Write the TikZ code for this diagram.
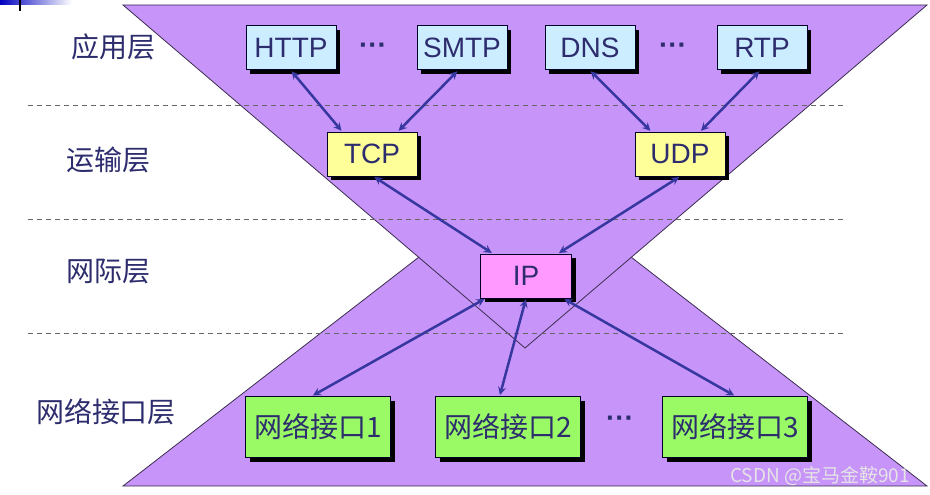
\documentclass[tikz,border=0pt]{standalone}
\usepackage{fontspec}
\setmainfont{Liberation Sans}
\newfontfamily\cjk{Noto Sans CJK SC}
\usetikzlibrary{shadows}
\definecolor{lilac}{RGB}{199,148,249}
\definecolor{edgegray}{RGB}{60,45,80}
\definecolor{navytext}{RGB}{45,45,110}
\definecolor{linkblue}{RGB}{55,55,160}
\definecolor{appblue}{RGB}{204,236,255}
\definecolor{tpyellow}{RGB}{255,255,153}
\definecolor{ippink}{RGB}{255,153,255}
\definecolor{nigreen}{RGB}{153,250,102}
\begin{document}
\begin{tikzpicture}[x=1pt,y=-1pt,>=stealth,
    every node/.style={text=navytext},
    layer/.style={font=\cjk\fontsize{28}{30}\selectfont},
    box/.style={draw=black!85!blue,line width=1pt,inner sep=0pt,
        minimum width=90pt,minimum height=44pt,
        font=\fontsize{28}{30}\selectfont,
        general shadow={fill=black,shadow xshift=4pt,shadow yshift=-4pt}},
    nibox/.style={box,fill=nigreen,minimum width=145pt,minimum height=61pt,
        font=\cjk\fontsize{28}{30}\selectfont},
    link/.style={<->,draw=linkblue,line width=2.5pt,shorten <=1pt,shorten >=1pt},
    sep/.style={dashed,draw=black!60,thick,dash pattern=on 5pt off 4pt}]
    \useasboundingbox (0,0) rectangle (930,495);
    % slide corner
    \shade[left color=blue!75!black,right color=white] (0,0) rectangle (72,5);
    \draw[line width=2pt] (20,0) -- (20,11);
    % the two triangles
    \filldraw[fill=lilac,draw=edgegray,thick] (123,486) -- (525,175) -- (927,486) -- cycle;
    \filldraw[fill=lilac,draw=edgegray,thick] (123,5) -- (927,5) -- (525,348) -- cycle;
    % layer borders
    \draw[sep] (28,105) -- (843,105);
    \draw[sep] (28,219) -- (843,219);
    \draw[sep] (28,333) -- (843,333);
    \node[layer] (l1) at (113,47) {应用层};
    \node[layer] (l2) at (108,160) {运输层};
    \node[layer] (l3) at (108,272) {网际层};
    \node[layer] (l4) at (106,412) {网络接口层};
    % protocols
    \node[box,fill=appblue] (http) at (291,48) {HTTP};
    \node[box,fill=appblue] (smtp) at (462,48) {SMTP};
    \node[box,fill=appblue] (dns) at (590,48) {DNS};
    \node[box,fill=appblue] (rtp) at (762,48) {RTP};
    \node[font=\bfseries\fontsize{28}{30}\selectfont] (d1) at (373,49) {···};
    \node[font=\bfseries\fontsize{28}{30}\selectfont] (d2) at (673,49) {···};
    \node[box,fill=tpyellow] (tcp) at (372,154) {TCP};
    \node[box,fill=tpyellow] (udp) at (680,154) {UDP};
    \node[box,fill=ippink,minimum width=91pt] (ip) at (526,276) {IP};
    \node[nibox] (ni1) at (318,427) {网络接口1};
    \node[nibox] (ni2) at (508,427) {网络接口2};
    \node[nibox] (ni3) at (735,427) {网络接口3};
    \node[font=\bfseries\fontsize{28}{30}\selectfont] (d3) at (620,422) {···};
    \draw[link] (http.south) -- (tcp.143);
    \draw[link] (smtp.260) -- (tcp.41);
    \draw[link] (dns.south) -- (udp.142);
    \draw[link] (rtp.265) -- (udp.48);
    \draw[link] (tcp.274) -- (ip.146);
    \draw[link] (udp.south) -- (ip.35);
    \draw[link] (ip.209) -- (ni1.101);
    \draw[link] (ip.south) -- (ni2.105);
    \draw[link] (ip.329) -- (ni3.north);
    \node[font=\cjk\fontsize{19}{21}\selectfont,text=white!80!gray] (mark) at (820,476) {CSDN @宝马金鞍901};
\end{tikzpicture}
\end{document}
